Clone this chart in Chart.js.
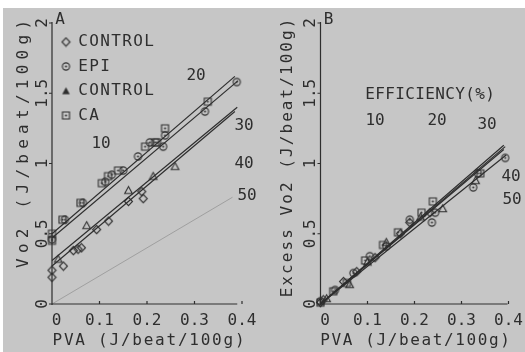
<!DOCTYPE html>
<html>
<head>
<meta charset="utf-8">
<script src="https://cdn.jsdelivr.net/npm/chart.js@4.4.1/dist/chart.umd.min.js"></script>
<style>
  html, body { margin: 0; padding: 0; background: #fff; }
  #wrap { position: relative; width: 525px; height: 352px; overflow: hidden; }
  #bg { position: absolute; left: 3px; top: 8px; right: 0; bottom: 0; background: #c6c6c6; }
  #ca { position: absolute; left: 0; top: 0; }
  #cb { position: absolute; left: 268px; top: 0; }
</style>
</head>
<body>
<div id="wrap">
  <div id="bg"></div>
  <canvas id="ca" width="270" height="352"></canvas>
  <canvas id="cb" width="257" height="352"></canvas>
</div>
<script>
// ---- data ----
const xTicks = [0, 0.1, 0.2, 0.3, 0.4];
const yTicks = [0, 0.5, 1, 1.5, 2];
const xTickLabels = ['0', '0.1', '0.2', '0.3', '0.4'];
const yTickLabels = ['0', '0.5', '1', '1.5', '2'];
const seriesNames = ['CONTROL', 'EPI', 'CONTROL', 'CA'];
const effLabels = ['10', '20', '30', '40', '50'];

// panel A : Vo2 vs PVA
const ctrlDiamondA = [[0, 0.24], [0, 0.19], [0.024, 0.27], [0.045, 0.38], [0.055, 0.39], [0.062, 0.40],
  [0.094, 0.53], [0.119, 0.59], [0.161, 0.73], [0.189, 0.80], [0.192, 0.75]];
const epiA = [[0, 0.46], [0.027, 0.60], [0.065, 0.72], [0.112, 0.87], [0.126, 0.92], [0.15, 0.95],
  [0.181, 1.05], [0.206, 1.15], [0.234, 1.12], [0.238, 1.20], [0.322, 1.37], [0.389, 1.58]];
const ctrlTriangleA = [[0.013, 0.32], [0.073, 0.56], [0.161, 0.81], [0.213, 0.91], [0.259, 0.98]];
const caA = [[0, 0.50], [0, 0.45], [0.022, 0.60], [0.06, 0.72], [0.105, 0.86], [0.118, 0.91],
  [0.139, 0.95], [0.196, 1.12], [0.217, 1.15], [0.221, 1.15], [0.238, 1.25], [0.328, 1.44]];
const fitsA = [
  [[0, 0.27], [0.385, 1.37]],
  [[0, 0.47], [0.392, 1.59]],
  [[0, 0.31], [0.39, 1.40]],
  [[0, 0.50], [0.385, 1.62]]
];
// only the 50 % iso-efficiency line shows in the figure
const effEndsA = [[0.38, 0.76]];

// panel B : excess Vo2 vs PVA
const ctrlDiamondB = [[0, 0.01], [0.006, 0.03], [0.049, 0.16], [0.077, 0.23], [0.116, 0.33],
  [0.17, 0.50], [0.19, 0.58], [0.233, 0.65]];
const epiB = [[0, 0.02], [0.031, 0.10], [0.07, 0.22], [0.105, 0.34], [0.14, 0.41], [0.19, 0.60],
  [0.237, 0.58], [0.244, 0.65], [0.325, 0.83], [0.335, 0.93], [0.393, 1.04]];
const ctrlTriangleB = [[0.013, 0.04], [0.062, 0.14], [0.1, 0.30], [0.14, 0.44], [0.213, 0.62],
  [0.26, 0.68], [0.33, 0.88]];
const caB = [[0, 0.01], [0.027, 0.09], [0.056, 0.15], [0.095, 0.31], [0.133, 0.42], [0.165, 0.51],
  [0.215, 0.65], [0.239, 0.73], [0.34, 0.93]];
const fitsB = [
  [[0, 0], [0.39, 1.10]],
  [[0, 0], [0.395, 1.06]],
  [[0, 0], [0.393, 1.12]],
  [[0, 0], [0.39, 1.13]]
];
const effEndsB = [];

// ---- styling ----
const INK = '#2e2e2e';
const FONT = '"DejaVu Sans Mono", monospace';

function marker(kind, filled) {
  const c = document.createElement('canvas');
  c.width = c.height = 11;
  const g = c.getContext('2d');
  g.strokeStyle = INK; g.fillStyle = INK; g.lineWidth = 1.1;
  g.beginPath();
  if (kind === 'circle') {
    g.arc(5.5, 5.5, 3.6, 0, Math.PI * 2); g.stroke();
    g.beginPath(); g.arc(5.5, 5.5, 1, 0, Math.PI * 2); g.fill();
  } else if (kind === 'square') {
    g.rect(2, 2, 7, 7); g.stroke();
    g.beginPath(); g.arc(5.5, 5.5, 1, 0, Math.PI * 2); g.fill();
  } else if (kind === 'diamond') {
    g.moveTo(5.5, 1.3); g.lineTo(9.5, 5.5); g.lineTo(5.5, 9.7); g.lineTo(1.5, 5.5); g.closePath(); g.stroke();
  } else {
    g.moveTo(5.5, 1.8); g.lineTo(9.3, 8.8); g.lineTo(1.7, 8.8); g.closePath();
    filled ? g.fill() : g.stroke();
  }
  return c;
}
const markers = [marker('diamond'), marker('circle'), marker('triangle'), marker('square')];
const legendMarkers = [markers[0], markers[1], marker('triangle', true), markers[3]];

const pts = arr => arr.map(p => ({ x: p[0], y: p[1] }));

function buildDatasets(series, fits, effEnds) {
  const ds = [];
  series.forEach((s, i) => ds.push({
    label: seriesNames[i], data: pts(s), pointStyle: markers[i],
    pointRadius: 4, showLine: false, clip: false
  }));
  fits.forEach(f => ds.push({
    data: pts(f), showLine: true, pointRadius: 0, borderColor: INK, borderWidth: 1.2, clip: false
  }));
  effEnds.forEach(e => ds.push({
    data: pts([[0, 0], e]), showLine: true, pointRadius: 0,
    borderColor: 'rgba(60,60,60,0.35)', borderWidth: 0.8, clip: false
  }));
  return ds;
}

// one character per step, centred on (x, y); vertical = reads bottom to top
function spaced(ctx, text, x, y, step, vertical) {
  const n = text.length;
  for (let i = 0; i < n; i++) {
    const off = (i - (n - 1) / 2) * step;
    if (vertical) {
      ctx.save(); ctx.translate(x, y - off); ctx.rotate(-Math.PI / 2);
      ctx.fillText(text[i], 0, 0); ctx.restore();
    } else {
      ctx.fillText(text[i], x + off, y);
    }
  }
}

const panelPlugin = {
  id: 'panel',
  beforeDatasetsDraw(chart, args, o) {
    const { ctx, scales: { x, y } } = chart;
    const x0 = x.getPixelForValue(0), y0 = y.getPixelForValue(0);
    ctx.save();
    ctx.strokeStyle = INK; ctx.lineWidth = 1.2;
    ctx.beginPath();
    ctx.moveTo(x0, y.getPixelForValue(2) - 1); ctx.lineTo(x0, y0 + 1);
    ctx.moveTo(x0 - 2, y0); ctx.lineTo(x.getPixelForValue(o.xEnd), y0);
    yTicks.forEach(v => { const p = y.getPixelForValue(v); ctx.moveTo(x0 - 3, p); ctx.lineTo(x0, p); });
    xTicks.forEach(v => { const p = x.getPixelForValue(v); ctx.moveTo(p, y0); ctx.lineTo(p, y0 - 3); });
    ctx.stroke();

    ctx.fillStyle = INK;
    ctx.font = '16px ' + FONT;
    ctx.textAlign = 'center'; ctx.textBaseline = 'middle';
    xTicks.forEach((v, i) => ctx.fillText(xTickLabels[i], x.getPixelForValue(v) + (i === 0 ? 4.5 : 0), 321));
    yTicks.forEach((v, i) => {
      ctx.save(); ctx.translate(x0 - 9.5, y.getPixelForValue(v)); ctx.rotate(-Math.PI / 2);
      ctx.fillText(yTickLabels[i], 0, 0); ctx.restore();
    });
    spaced(ctx, o.xTitle, o.xTitlePos[0], 341, o.xTitleStep, false);
    spaced(ctx, o.yTitle, o.yTitlePos[0], o.yTitlePos[1], o.yTitleStep, true);
    ctx.fillText(o.letter, x0 + 8, 20);

    o.notes.forEach(n => spaced(ctx, n.t, n.x, n.y, n.step || 9.6, false));

    if (o.legend) {
      seriesNames.forEach((name, i) => {
        const ry = 42 + i * 24.5;
        const m = legendMarkers[i];
        ctx.drawImage(m, 66 - m.width / 2, ry - m.height / 2);
        spaced(ctx, name, 83 + (name.length - 1) * 11 / 2, ry, 11, false);
      });
    }
    ctx.restore();
  }
};

function makeChart(id, datasets, pad, opts) {
  return new Chart(document.getElementById(id), {
    type: 'scatter',
    data: { datasets },
    options: {
      responsive: false,
      animation: false,
      events: [],
      layout: { padding: pad },
      scales: {
        x: { type: 'linear', min: 0, max: 0.4, display: false },
        y: { type: 'linear', min: 0, max: 2, display: false }
      },
      plugins: { legend: { display: false }, tooltip: { enabled: false }, panel: opts }
    },
    plugins: [panelPlugin]
  });
}

makeChart('ca', buildDatasets([ctrlDiamondA, epiA, ctrlTriangleA, caA], fitsA, effEndsA),
  { left: 52, right: 28, top: 23, bottom: 48 },
  {
    letter: 'A', legend: true, xEnd: 0.39,
    xTitle: 'PVA (J/beat/100g)', xTitlePos: [148.5], xTitleStep: 11.4,
    yTitle: 'Vo2 (J/beat/100g)', yTitlePos: [24, 144], yTitleStep: 14.9,
    notes: [
      { t: effLabels[0], x: 101, y: 144 }, { t: effLabels[1], x: 196, y: 76 },
      { t: effLabels[2], x: 244, y: 126 }, { t: effLabels[3], x: 244, y: 164 },
      { t: effLabels[4], x: 247, y: 196 }
    ]
  });

makeChart('cb', buildDatasets([ctrlDiamondB, epiB, ctrlTriangleB, caB], fitsB, effEndsB),
  { left: 52.5, right: 16.5, top: 23, bottom: 48 },
  {
    letter: 'B', legend: false, xEnd: 0.398,
    xTitle: 'PVA (J/beat/100g)', xTitlePos: [147], xTitleStep: 11.25,
    yTitle: 'Excess Vo2 (J/beat/100g)', yTitlePos: [20, 158], yTitleStep: 11.7,
    notes: [
      { t: 'EFFICIENCY(%)', x: 162, y: 95, step: 10 },
      { t: effLabels[0], x: 107, y: 121 }, { t: effLabels[1], x: 169, y: 121 },
      { t: effLabels[2], x: 219, y: 125 }, { t: effLabels[3], x: 243, y: 177 },
      { t: effLabels[4], x: 244, y: 200 }
    ]
  });
</script>
</body>
</html>
